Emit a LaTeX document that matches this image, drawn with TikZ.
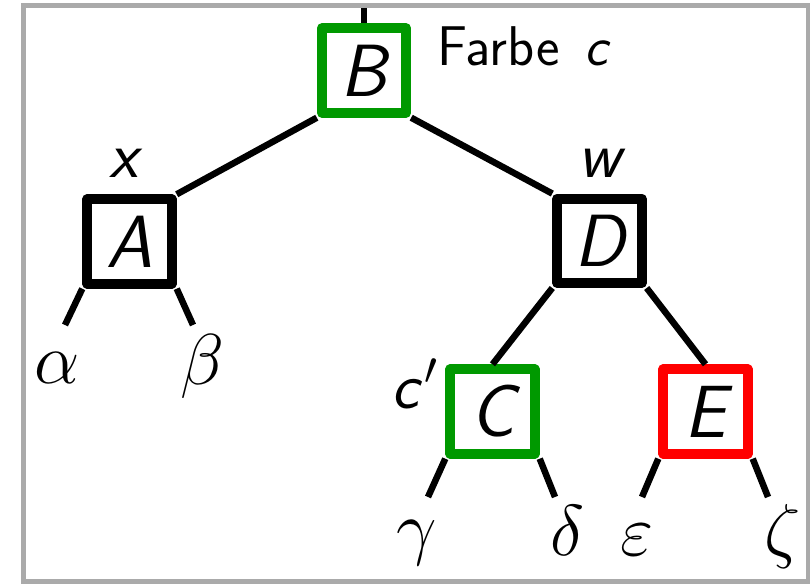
\RequirePackage{fix-cm}
\documentclass[tikz,border=0pt]{standalone}
\definecolor{framegray}{RGB}{170,170,170}
\definecolor{nodegreen}{RGB}{0,153,0}
\definecolor{nodered}{RGB}{255,0,0}
\begin{document}
\begin{tikzpicture}[x=0.5pt,y=-0.5pt,
  treebox/.style={draw, line width=5pt, minimum size=42.2pt, inner sep=0pt,
    line join=round, font=\fontsize{37}{41}\selectfont\sffamily\itshape},
  edge/.style={line width=3.25pt, line cap=butt},
  leaf/.style={inner sep=0pt, font=\fontsize{36}{40}\selectfont},
  tag/.style={inner sep=0pt, font=\fontsize{33}{38}\selectfont\sffamily\itshape},
  note/.style={inner sep=0pt, font=\fontsize{28}{32}\selectfont\sffamily}]
\useasboundingbox (0,0) rectangle (810,584);

% tree nodes
\node[treebox, draw=nodegreen] (B) at (364,70.5) {B};
\node[treebox] (A) at (129.5,241.5) {A};
\node[treebox] (D) at (599.5,240.8) {D};
\node[treebox, draw=nodegreen] (C) at (492.5,411.5) {C};
\node[treebox, draw=nodered] (E) at (705.5,411.5) {E};

% labels next to nodes
\node[note, anchor=base west] (farbe) at (437,65) {Farbe\hspace{0.45em}\textit{c}};
\node[tag, anchor=base] (lx) at (124,177) {x};
\node[tag, anchor=base] (lw) at (600,177) {w};
\node[tag, anchor=base west] (lc) at (391,408) {c\kern3pt$'$};

% subtrees
\node[leaf] (alpha) at (57,368) {$\alpha$};
\node[leaf] (beta) at (202,366) {$\beta$};
\node[leaf] (gamma) at (417,543) {$\gamma$};
\node[leaf] (delta) at (567,530) {$\delta$};
\node[leaf] (eps) at (637,540) {$\varepsilon$};
\node[leaf] (zeta) at (783,536) {$\zeta$};

% free ends of the edges
\coordinate (top) at (364,8);
\coordinate (a1) at (65,325);
\coordinate (a2) at (193,325);
\coordinate (c1) at (428,497);
\coordinate (c2) at (555,497);
\coordinate (e1) at (642,497);
\coordinate (e2) at (768,497);

% edges
\draw[edge] (B.north) -- (top);
\draw[edge] (B.south west) -- (A.north east);
\draw[edge] (B.south east) -- (D.north west);
\draw[edge] (A.south west) -- (a1);
\draw[edge] (A.south east) -- (a2);
\draw[edge] (D.south west) -- (C.north);
\draw[edge] (D.south east) -- (E.north);
\draw[edge] (C.south west) -- (c1);
\draw[edge] (C.south east) -- (c2);
\draw[edge] (E.south west) -- (e1);
\draw[edge] (E.south east) -- (e2);

% frame
\draw[framegray, line width=2.5pt] (23,5.5) rectangle (808,581);
\end{tikzpicture}
\end{document}
